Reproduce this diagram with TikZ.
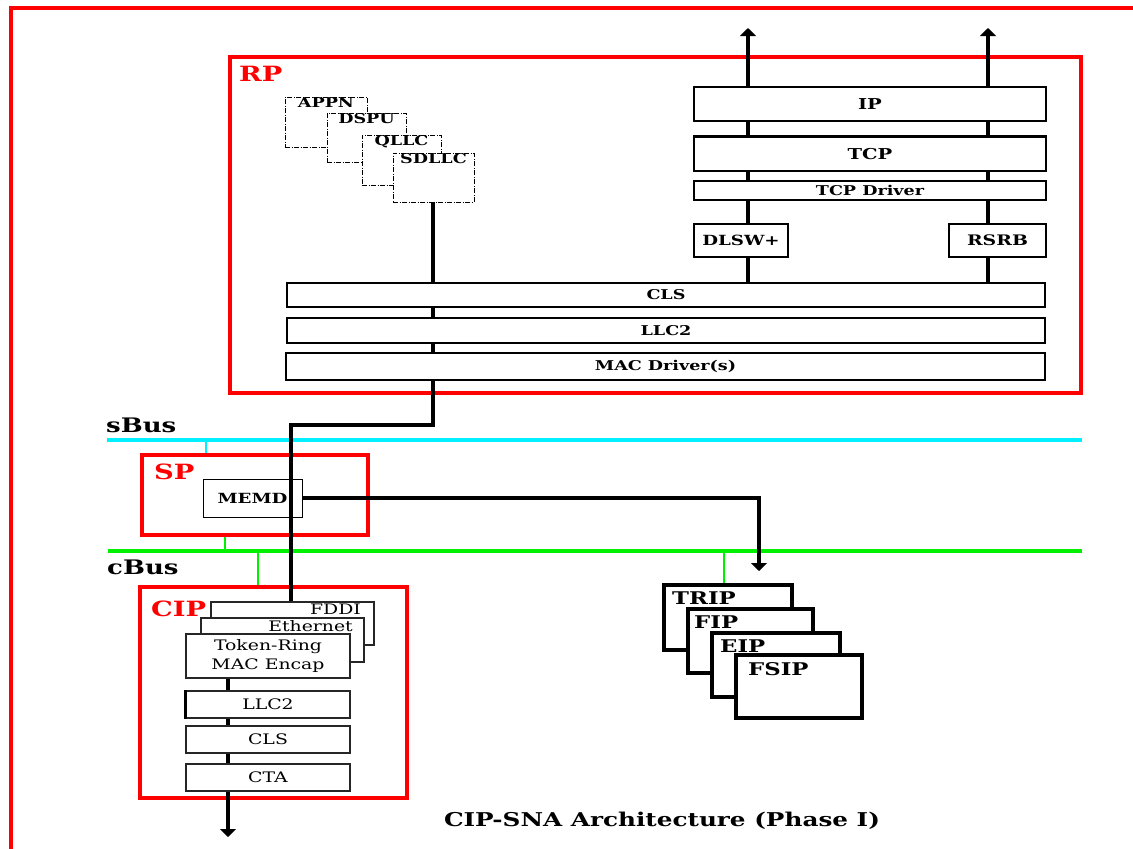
\documentclass[tikz,border=0pt]{standalone}
\usepackage{fontspec}
\setmainfont{DejaVu Serif}[FakeStretch=1.3]
\usetikzlibrary{arrows.meta}
\definecolor{pRed}{RGB}{255,0,0}
\definecolor{pCyan}{RGB}{0,240,255}
\definecolor{pGreen}{RGB}{0,240,0}
\begin{document}
\begin{tikzpicture}[x=1pt,y=1pt,
  redframe/.style={draw=pRed, line width=3.5pt, inner sep=0pt},
  layer/.style={draw=black, fill=white, line width=1.4pt, inner sep=0pt, font=\fontsize{13.5}{13.5}\selectfont\bfseries},
  dbox/.style={draw=black, fill=white, line width=1pt, dash pattern=on 5pt off 1.5pt on 1pt off 1.5pt, inner sep=0pt},
  dtext/.style={anchor=north, inner sep=1pt, font=\fontsize{13.5}{13.5}\selectfont\bfseries},
  cipbox/.style={draw=black!85, fill=white, line width=1.3pt, inner sep=0pt, font=\fontsize{14.5}{14.5}\selectfont},
  card/.style={draw=black, fill=white, line width=3.5pt, inner sep=0pt},
  cardtext/.style={anchor=north west, inner sep=0pt, font=\fontsize{17.5}{17.5}\selectfont\bfseries},
  wire/.style={draw=black, line width=3.5pt},
  arr/.style={wire, -{Triangle[width=16pt,length=8pt]}},
  redlbl/.style={text=pRed, inner sep=0pt, font=\fontsize{21}{21}\selectfont\bfseries},
  buslbl/.style={text=black, inner sep=0pt, font=\fontsize{20}{20}\selectfont\bfseries},
  sbusline/.style={draw=pCyan, line width=3.5pt},
  cbusline/.style={draw=pGreen, line width=4pt},
  cline/.style={draw=pGreen, line width=2.2pt},
  sline/.style={draw=pCyan, line width=2.5pt}]
\useasboundingbox (0,0) rectangle (1133,-849);
% outer frame
\coordinate (ofbl) at (11,-849);
\coordinate (oftl) at (11,-8);
\coordinate (oftr) at (1133,-8);
\draw[pRed, line width=4pt] (ofbl) -- (oftl) -- (oftr);
% red frames
\node[redframe, minimum width=851pt, minimum height=336pt] (rp) at (655.5,-225) {};
\node[redlbl, anchor=west] (rplbl) at (239,-74) {RP};
\node[redframe, minimum width=226pt, minimum height=80pt] (sp) at (255,-495) {};
\node[redlbl, anchor=west] (splbl) at (154,-472) {SP};
\node[redframe, minimum width=267pt, minimum height=211pt] (cip) at (273.5,-692.5) {};
\node[redlbl, anchor=west] (ciplbl) at (151,-609) {CIP};
% buses
\coordinate (sbL) at (107,-440); \coordinate (sbR) at (1082,-440);
\coordinate (cbL) at (108,-551); \coordinate (cbR) at (1082,-551);
\draw[sbusline] (sbL) -- (sbR);
\draw[cbusline] (cbL) -- (cbR);
\node[buslbl, anchor=west] (sbuslbl) at (106,-425) {sBus};
\node[buslbl, anchor=west] (cbuslbl) at (107,-567) {cBus};
\coordinate (sj) at (206,-440);
\draw[sline] (sj) -- (sj |- sp.north);
\coordinate (cj1) at (225,-551);
\draw[cline] (cj1 |- sp.south) -- (cj1);
\coordinate (cj2) at (258,-551);
\draw[cline] (cj2) -- (cj2 |- cip.north);
\coordinate (cj3) at (724,-551);
\coordinate (tripTop) at (724,-585);
\draw[cline] (cj3) -- (tripTop);
% MEMD
\node[draw=black, line width=1pt, minimum width=99pt, minimum height=38pt, inner sep=0pt, font=\fontsize{14}{14}\selectfont\bfseries] (memd) at (252.5,-498) {MEMD};
\coordinate (memdarr) at (759,-571);
\draw[arr] (memd.east) -| (memdarr);
% RP wires (under boxes)
\coordinate (up1) at (748,-28);
\coordinate (up2) at (988,-28);
\coordinate (j1) at (433,-425);
\coordinate (j2) at (291,-425);
\coordinate (fddiTop) at (291,-602);
\draw[arr] (748,-283) -- (up1);
\draw[arr] (988,-283) -- (up2);
\draw[wire] (433,-202) -- (j1) -- (j2) -- (fddiTop);
% dashed stack
\node[dbox, minimum width=82pt, minimum height=50pt] (appn) at (326,-122) {};
\node[dtext] (appnt) at (appn.north) {APPN};
\node[dbox, minimum width=79pt, minimum height=49pt] (dspu) at (366.5,-137.5) {};
\node[dtext] (dsput) at (dspu.north) {DSPU};
\node[dbox, minimum width=79pt, minimum height=50pt] (qllc) at (401.5,-160) {};
\node[dtext] (qllct) at (qllc.north) {QLLC};
\node[dbox, minimum width=81pt, minimum height=49pt] (sdllc) at (433.5,-177.5) {};
\node[dtext] (sdllct) at (sdllc.north) {SDLLC};
% right stack
\node[layer, minimum width=352pt, minimum height=34pt, font=\fontsize{15}{15}\selectfont\bfseries] (ip) at (870,-104) {IP};
\node[layer, minimum width=352pt, minimum height=34pt, font=\fontsize{15}{15}\selectfont\bfseries] (tcp) at (870,-154) {TCP};
\draw[black, line width=3pt] (tcp.north west) -- (tcp.north east);
\node[layer, minimum width=352pt, minimum height=19pt, font=\fontsize{13.5}{13.5}\selectfont\bfseries] (tcpd) at (870,-190.5) {TCP Driver};
\node[layer, minimum width=94pt, minimum height=33pt, font=\fontsize{14}{14}\selectfont\bfseries] (dlsw) at (741,-240.5) {DLSW+};
\node[layer, minimum width=97pt, minimum height=33pt, font=\fontsize{14.5}{14.5}\selectfont\bfseries] (rsrb) at (997.5,-240.5) {RSRB};
% RP layers
\node[layer, minimum width=758pt, minimum height=24pt] (cls) at (666,-295) {CLS};
\node[layer, minimum width=758pt, minimum height=25pt] (llc2) at (666,-330.5) {LLC2};
\node[layer, minimum width=759pt, minimum height=27pt] (mac) at (665.5,-366.5) {MAC Driver(s)};
% CIP stack
\coordinate (down2) at (228,-837);
\draw[arr] (228,-678) -- (down2);
\node[cipbox, minimum width=163pt, minimum height=43pt] (fddi) at (292.5,-623.5) {};
\node[anchor=north east, inner sep=0pt, font=\fontsize{14.5}{14.5}\selectfont] (fdditxt) at (361,-604) {FDDI};
\node[cipbox, minimum width=163pt, minimum height=44pt] (eth) at (282.5,-640) {};
\node[anchor=north east, inner sep=0pt, font=\fontsize{14.5}{14.5}\selectfont] (ethtxt) at (353,-620) {Ethernet};
\node[cipbox, minimum width=164pt, minimum height=44pt, align=center, font=\fontsize{14.5}{19}\selectfont] (token) at (268,-656) {Token-Ring\\MAC Encap};
\node[cipbox, minimum width=164pt, minimum height=27pt] (llc2c) at (268,-704.5) {LLC2};
\draw[black, line width=3pt] (llc2c.north west) -- (llc2c.south west);
\node[cipbox, minimum width=164pt, minimum height=27pt] (clsc) at (268,-739.5) {CLS};
\node[cipbox, minimum width=164pt, minimum height=27pt] (cta) at (268,-777.5) {CTA};
% interface cards
\node[card, minimum width=128pt, minimum height=65pt] (trip) at (728,-617.5) {};
\node[cardtext] (triptxt) at (672,-592) {TRIP};
\node[card, minimum width=125pt, minimum height=64pt] (fip) at (750.5,-641) {};
\node[cardtext] (fiptxt) at (694,-616) {FIP};
\node[card, minimum width=128pt, minimum height=64pt] (eip) at (776,-665) {};
\node[cardtext] (eiptxt) at (720,-640) {EIP};
\node[card, minimum width=126pt, minimum height=63pt] (fsip) at (799,-686.5) {};
\node[cardtext] (fsiptxt) at (748,-662) {FSIP};
% caption
\node[inner sep=0pt, font=\fontsize{19}{19}\selectfont\bfseries] (caption) at (662,-821) {CIP-SNA Architecture (Phase I)};
\end{tikzpicture}
\end{document}
